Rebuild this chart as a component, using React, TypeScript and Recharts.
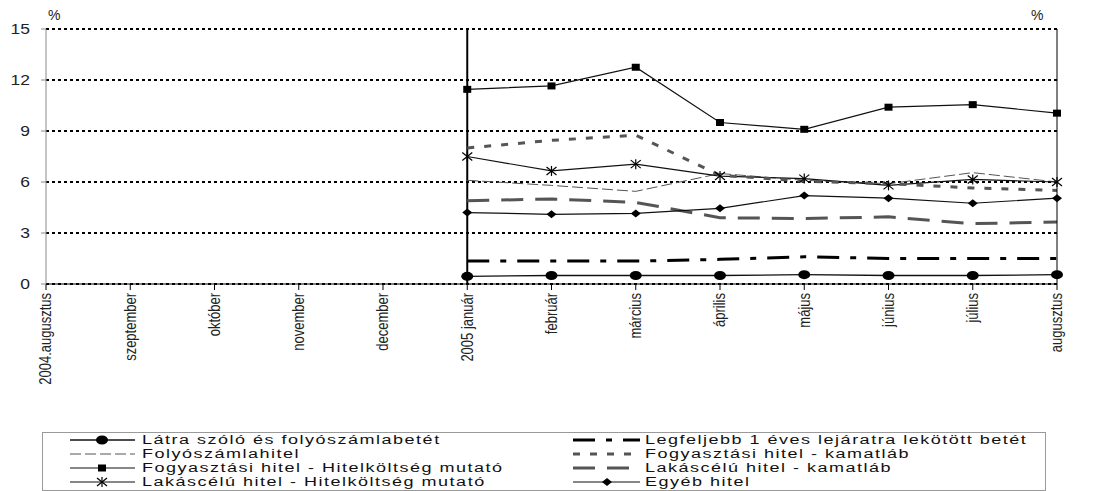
import { CartesianGrid, Line, LineChart, ReferenceLine, XAxis, YAxis } from 'recharts';

const FONT = '"Liberation Sans", Arial, sans-serif';

const months = [
    '2004.augusztus', 'szeptember', 'október', 'november', 'december',
    '2005 január', 'február', 'március', 'április', 'május', 'június', 'július', 'augusztus',
];

const yTicks = [0, 3, 6, 9, 12, 15];

// 2004 has no observations, every series starts in January 2005
const latraBetet = [null, null, null, null, null, 0.45, 0.5, 0.5, 0.5, 0.55, 0.5, 0.5, 0.55];
const lekotottBetet = [null, null, null, null, null, 1.35, 1.35, 1.35, 1.45, 1.6, 1.5, 1.5, 1.5];
const folyoszamlahitel = [null, null, null, null, null, 6.1, 5.8, 5.45, 6.5, 6.1, 5.9, 6.55, 6.0];
const fogyKamat = [null, null, null, null, null, 8.0, 8.45, 8.75, 6.4, 6.05, 5.9, 5.65, 5.5];
const fogyThm = [null, null, null, null, null, 11.45, 11.65, 12.75, 9.5, 9.1, 10.4, 10.55, 10.05];
const lakasKamat = [null, null, null, null, null, 4.9, 5.0, 4.8, 3.9, 3.85, 3.95, 3.55, 3.65];
const lakasThm = [null, null, null, null, null, 7.5, 6.65, 7.05, 6.35, 6.2, 5.8, 6.15, 6.0];
const egyebHitel = [null, null, null, null, null, 4.2, 4.1, 4.15, 4.45, 5.2, 5.05, 4.75, 5.05];

type Marker = 'none' | 'circle' | 'square' | 'star' | 'diamond';

interface SeriesDef {
    key: string;
    name: string;
    values: (number | null)[];
    stroke: string;
    width: number;
    dash?: string;
    marker: Marker;
}

const series: SeriesDef[] = [
    { key: 'latra', name: 'Látra szóló és folyószámlabetét', values: latraBetet, stroke: '#111', width: 1.3, marker: 'circle' },
    { key: 'folyo', name: 'Folyószámlahitel', values: folyoszamlahitel, stroke: '#555', width: 1, dash: '11 4', marker: 'none' },
    { key: 'fogyThm', name: 'Fogyasztási hitel - Hitelköltség mutató', values: fogyThm, stroke: '#111', width: 1.2, marker: 'square' },
    { key: 'lakasThm', name: 'Lakáscélú hitel - Hitelköltség mutató', values: lakasThm, stroke: '#111', width: 1.2, marker: 'star' },
    { key: 'lekotott', name: 'Legfeljebb 1 éves lejáratra lekötött betét', values: lekotottBetet, stroke: '#000', width: 3, dash: '22 11 6 11', marker: 'none' },
    { key: 'fogyKamat', name: 'Fogyasztási hitel - kamatláb', values: fogyKamat, stroke: '#555', width: 3, dash: '7 10', marker: 'none' },
    { key: 'lakasKamat', name: 'Lakáscélú hitel - kamatláb', values: lakasKamat, stroke: '#555', width: 3, dash: '22 12', marker: 'none' },
    { key: 'egyeb', name: 'Egyéb hitel', values: egyebHitel, stroke: '#111', width: 1.2, marker: 'diamond' },
];

const chartData = months.map((month, i) => {
    const row: Record<string, string | number | null> = { month };
    series.forEach((s) => {
        row[s.key] = s.values[i];
    });
    return row;
});

function markerShape(marker: Marker, cx: number, cy: number, key?: string) {
    switch (marker) {
        case 'circle':
            return <ellipse key={key} cx={cx} cy={cy} rx={6} ry={4.5} fill="#000" />;
        case 'square':
            return <rect key={key} x={cx - 4} y={cy - 3.5} width={8} height={7} fill="#000" />;
        case 'diamond':
            return <polygon key={key} points={`${cx - 5},${cy} ${cx},${cy - 4} ${cx + 5},${cy} ${cx},${cy + 4}`} fill="#000" />;
        case 'star':
            return (
                <g key={key} stroke="#000" strokeWidth={1.2}>
                    <line x1={cx - 5} y1={cy - 4} x2={cx + 5} y2={cy + 4} />
                    <line x1={cx - 5} y1={cy + 4} x2={cx + 5} y2={cy - 4} />
                    <line x1={cx} y1={cy - 5} x2={cx} y2={cy + 5} />
                </g>
            );
        default:
            return <g key={key} />;
    }
}

function makeDot(s: SeriesDef) {
    if (s.marker === 'none') return false;
    return (p: any) => {
        const k = `${s.key}-${p.index}`;
        if (p.cx == null || p.cy == null || p.value == null) return <g key={k} />;
        return markerShape(s.marker, p.cx, p.cy, k);
    };
}

function MonthTick({ x, y, payload }: any) {
    return (
        <text
            transform={`translate(${x},${y}) scale(1.2,1) rotate(-90)`}
            textAnchor="end"
            dy="0.35em"
            fontSize={13}
            fontFamily={FONT}
            fill="#222"
        >
            {payload.value}
        </text>
    );
}

function ValueTick({ x, y, payload, textAnchor }: any) {
    return (
        <text
            transform={`translate(${x},${y}) scale(1.25,1)`}
            textAnchor={textAnchor}
            dy="0.35em"
            fontSize={14}
            fontFamily={FONT}
            fill="#222"
        >
            {payload.value}
        </text>
    );
}

// legend rows: left column then right column
const legendLeft = series.slice(0, 4);
const legendRight = series.slice(4);
const rowY = [8, 22, 36, 50];

function LegendBox() {
    return (
        <div
            style={{
                position: 'absolute',
                left: 42,
                top: 432,
                width: 1004,
                height: 59,
                boxSizing: 'border-box',
                border: '1px solid #9a9a9a',
                background: '#fff',
                fontFamily: FONT,
            }}
        >
            <svg width={1004} height={59} style={{ position: 'absolute', left: -1, top: -1 }}>
                {legendLeft.map((s, i) => (
                    <g key={s.key}>
                        <line x1={28} x2={93} y1={rowY[i]} y2={rowY[i]} stroke={s.stroke} strokeWidth={s.width} strokeDasharray={s.dash} />
                        {markerShape(s.marker, 60, rowY[i])}
                    </g>
                ))}
                {legendRight.map((s, i) => (
                    <g key={s.key}>
                        <line x1={531} x2={598} y1={rowY[i]} y2={rowY[i]} stroke={s.stroke} strokeWidth={s.width} strokeDasharray={s.dash} />
                        {markerShape(s.marker, 565, rowY[i])}
                    </g>
                ))}
            </svg>
            {legendLeft.map((s, i) => (
                <span key={s.key} style={legendText(100, rowY[i])}>{s.name}</span>
            ))}
            {legendRight.map((s, i) => (
                <span key={s.key} style={legendText(603, rowY[i])}>{s.name}</span>
            ))}
        </div>
    );
}

function legendText(left: number, cy: number): React.CSSProperties {
    return {
        position: 'absolute',
        left: left - 1,
        top: cy - 7.5,
        fontSize: 12,
        lineHeight: '13px',
        height: 13,
        letterSpacing: 1,
        color: '#111',
        whiteSpace: 'nowrap',
        display: 'inline-block',
        transform: 'scaleX(1.5)',
        transformOrigin: 'left center',
    };
}

export default function App() {
    return (
        <div style={{ position: 'absolute', left: 0, top: 0, width: 1100, height: 491, background: '#fff', fontFamily: FONT }}>
            <LineChart width={1100} height={491} data={chartData} margin={{ top: 29, right: 0, bottom: 0, left: 0 }}>
                <CartesianGrid yAxisId="left" vertical={false} stroke="#000" strokeWidth={2} strokeDasharray="3 3" />
                <XAxis
                    dataKey="month"
                    height={207}
                    interval={0}
                    stroke="#000"
                    tickSize={6}
                    tickMargin={3}
                    tick={<MonthTick />}
                />
                <YAxis
                    yAxisId="left"
                    width={46}
                    domain={[0, 15]}
                    ticks={yTicks}
                    stroke="#8a8a8a"
                    tickSize={5}
                    tickMargin={11}
                    tick={<ValueTick />}
                />
                <YAxis
                    yAxisId="right"
                    orientation="right"
                    width={43}
                    domain={[0, 15]}
                    ticks={yTicks}
                    stroke="#000"
                    tickSize={6}
                    tickMargin={12}
                    tick={<ValueTick />}
                />
                <ReferenceLine yAxisId="left" x="2005 január" stroke="#000" strokeWidth={2} />
                {series.map((s) => (
                    <Line
                        key={s.key}
                        yAxisId="left"
                        type="linear"
                        dataKey={s.key}
                        name={s.name}
                        stroke={s.stroke}
                        strokeWidth={s.width}
                        strokeDasharray={s.dash}
                        dot={makeDot(s)}
                        activeDot={false}
                        isAnimationActive={false}
                    />
                ))}
            </LineChart>
            <div style={{ position: 'absolute', left: 48, top: 7, fontSize: 14, color: '#222' }}>%</div>
            <div style={{ position: 'absolute', left: 1031, top: 7, fontSize: 14, color: '#222' }}>%</div>
            <LegendBox />
        </div>
    );
}
